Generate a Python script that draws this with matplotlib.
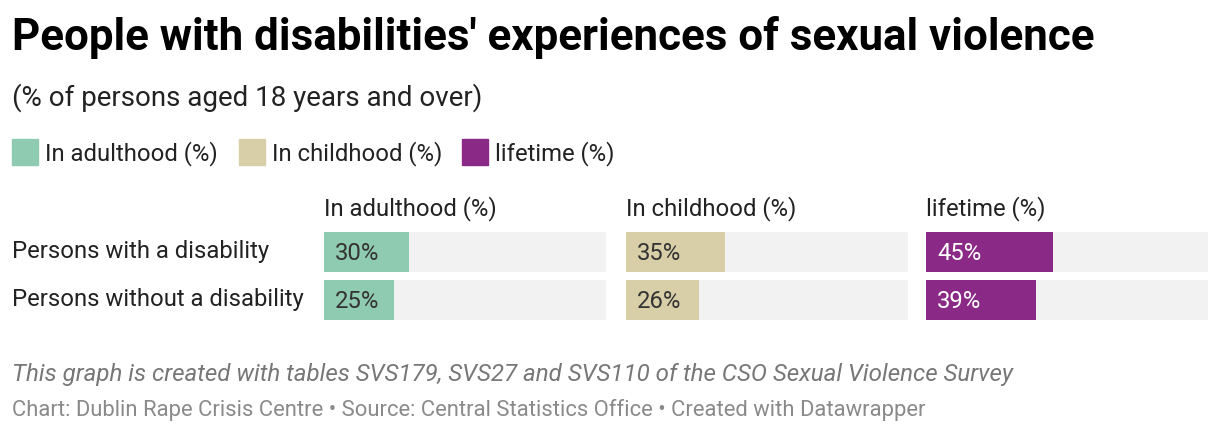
import matplotlib.pyplot as plt

W, H = 1220, 434

groups = ['Persons with a disability', 'Persons without a disability']
series = ['In adulthood (%)', 'In childhood (%)', 'lifetime (%)']
adulthood = [30, 25]
childhood = [35, 26]
lifetime = [45, 39]
colors = ['#8fcbb1', '#d8cfa9', '#8b2a86']
label_colors = ['#333333', '#333333', '#ffffff']

plt.rcParams['font.family'] = ['Roboto', 'DejaVu Sans']

fig = plt.figure(figsize=(W / 100, H / 100), dpi=100)
fig.patch.set_facecolor('white')


def txt(x, y, s, **kw):
    fig.text(x / W, 1 - y / H, s, va='baseline', ha='left', **kw)


txt(12, 50, "People with disabilities' experiences of sexual violence",
    fontsize=31.6, fontweight='bold', color='#000000')
txt(12, 106, '(% of persons aged 18 years and over)', fontsize=20, color='#222222')

# legend
leg_x = [12, 239, 462]
for i, name in enumerate(series):
    fig.patches.append(plt.Rectangle((leg_x[i] / W, 1 - 165 / H), 26 / W, 26 / H,
                                     transform=fig.transFigure, color=colors[i]))
    txt(leg_x[i] + 33, 160, name, fontsize=17.2, color='#222222')

# row labels
for j, g in enumerate(groups):
    txt(12, 258 + j * 48, g, fontsize=17.2, color='#222222')

panel_x = [324, 626, 926]
pw = 282
top, bottom = 232, 320
values = [adulthood, childhood, lifetime]
for i, vals in enumerate(values):
    ax = fig.add_axes([panel_x[i] / W, 1 - bottom / H, pw / W, (bottom - top) / H])
    ypos = list(range(len(vals)))
    ax.barh(ypos, [100] * len(vals), height=40 / 48, color='#f2f2f2')
    ax.barh(ypos, vals, height=40 / 48, color=colors[i])
    ax.set_xlim(0, 100)
    ax.set_ylim(len(vals) - 1 + 20 / 48, -20 / 48)
    ax.axis('off')
    for j, v in enumerate(vals):
        ax.text(11 / pw * 100, j + 8 / 48, f'{v}%', va='baseline', ha='left',
                fontsize=17.2, color=label_colors[i])
    txt(panel_x[i], 215, series[i], fontsize=17.2, color='#222222')

txt(12, 381, 'This graph is created with tables SVS179, SVS27 and SVS110 of the CSO Sexual Violence Survey',
    fontsize=17.4, style='italic', color='#777777')
txt(12, 416, 'Chart: Dublin Rape Crisis Centre \u2022 Source: Central Statistics Office \u2022 Created with Datawrapper',
    fontsize=15.8, color='#8a8a8a')

fig.savefig('out.png', dpi=100, facecolor='white')
